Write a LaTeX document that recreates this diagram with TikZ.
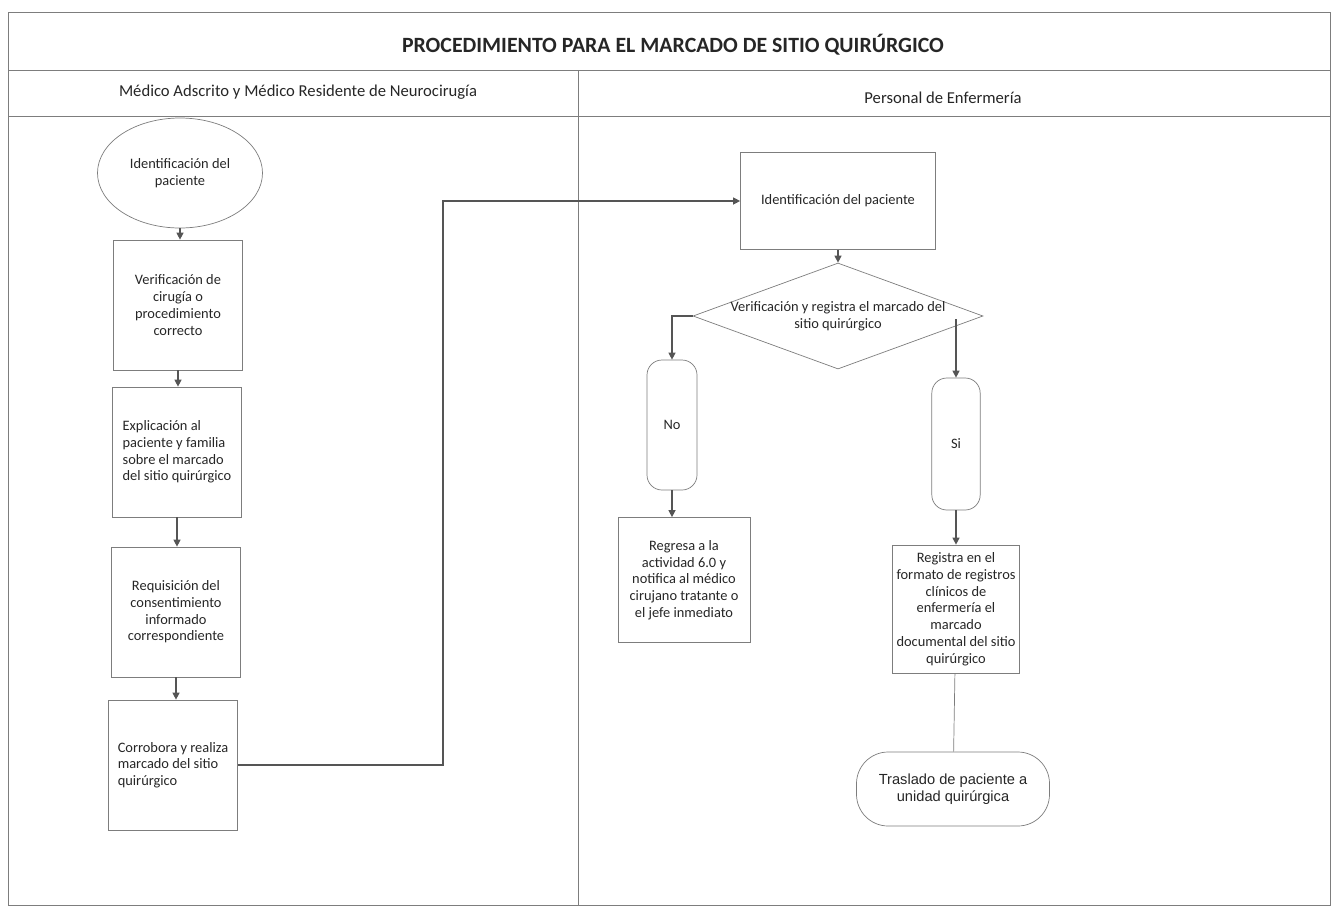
\documentclass[tikz,border=0pt]{standalone}
\usepackage{fontspec}
\setmainfont{Carlito}
\newfontfamily\arialFont{Liberation Sans}
\usetikzlibrary{shapes.geometric, arrows.meta}
\definecolor{lineGray}{RGB}{85,85,85}
\definecolor{frameGray}{RGB}{125,125,125}

\begin{document}
\begin{tikzpicture}[x=0.03cm, y=-0.03cm,
	box/.style={draw=frameGray, line width=0.6pt, rectangle, minimum width=3.85cm, minimum height=3.9cm, inner sep=1pt, align=center, font=\fontsize{12.3}{14.3}\selectfont, text=black!85},
	term/.style={draw=frameGray, line width=0.6pt, rectangle, rounded corners=0.45cm, minimum width=1.5cm, minimum height=3.9cm, font=\fontsize{12.3}{14.3}\selectfont, text=black!85},
	flow/.style={draw=lineGray, line width=1.1pt, -{Triangle[length=6pt, width=6pt]}},
	frame/.style={draw=frameGray, line width=0.8pt}]

% Define bounds.

	\useasboundingbox (0,0) rectangle (1334,915);

% Draw frame.

	\draw[frame] (8,12) rectangle (1330,905);
	\draw[frame] (8,70) -- (1330,70);
	\draw[frame] (8,116) -- (1330,116);
	\draw[frame] (578,70) -- (578,905);

	\node[font=\fontsize{18.6}{22}\selectfont\bfseries, text=black!85] (title) at (673,45) {PROCEDIMIENTO PARA EL MARCADO DE SITIO QUIRÚRGICO};
	\node[font=\fontsize{14.2}{17}\selectfont, text=black!85] (laneMedico) at (298,92) {Médico Adscrito y Médico Residente de Neurocirugía};
	\node[font=\fontsize{14.2}{17}\selectfont, text=black!85] (laneEnfermeria) at (943,98) {Personal de Enfermería};

% Draw left lane.

	%start
	\node[draw=frameGray, line width=0.6pt, ellipse, minimum width=4.95cm, minimum height=3.3cm, inner sep=0pt, align=center, font=\fontsize{12.3}{14.3}\selectfont, text=black!85] (start) at (180,173) {Identificación del\\paciente};

	%steps
	\node[box] (verifCirugia) at (178,305) {Verificación de\\cirugía o\\procedimiento\\correcto};
	\node[box, align=left] (explicacion) at (177,452) {Explicación al\\paciente y familia\\sobre el marcado\\del sitio quirúrgico};
	\node[box] (requisicion) at (176,612) {Requisición del\\consentimiento\\informado\\correspondiente};
	\node[box, align=left] (corrobora) at (173,765) {Corrobora y realiza\\marcado del sitio\\quirúrgico};

% Draw right lane.

	\node[box, minimum width=5.85cm, minimum height=2.91cm] (identEnf) at (838,201) {Identificación del paciente};
	\node[draw=frameGray, line width=0.6pt, diamond, minimum width=8.7cm, minimum height=3.18cm, inner sep=0pt] (verifMarcado) at (838,316) {};
	\node[align=center, font=\fontsize{12.3}{14.3}\selectfont, text=black!85] (verifText) at (838,316) {Verificación y registra el marcado del\\sitio quirúrgico};

	%branches
	\node[term] (no) at (672,425) {No};
	\node[term, minimum width=1.45cm, minimum height=3.96cm] (si) at (956,444) {Si};
	\coordinate (siStart) at (956,319);

	\node[box, minimum width=3.96cm, minimum height=3.75cm] (regresa) at (684,580) {Regresa a la\\actividad 6.0 y\\notifica al médico\\cirujano tratante o\\el jefe inmediato};
	\node[box, minimum width=3.81cm, minimum height=3.84cm] (registra) at (956,609) {Registra en el\\formato de registros\\clínicos de\\enfermería el\\marcado\\documental del sitio\\quirúrgico};

	%end
	\node[draw=frameGray, line width=0.6pt, rectangle, rounded corners=0.95cm, minimum width=5.79cm, minimum height=2.22cm, align=center, font=\arialFont\fontsize{12.5}{15}\selectfont, text=black!85] (traslado) at (953,789) {Traslado de paciente a\\unidad quirúrgica};

% Draw connectors.

	\draw[flow] (start.south) -- (start.south |- verifCirugia.north);
	\draw[flow] (verifCirugia.south) -- (verifCirugia.south |- explicacion.north);
	\draw[flow] (explicacion.south) -- (explicacion.south |- requisicion.north);
	\draw[flow] (requisicion.south) -- (requisicion.south |- corrobora.north);

	\coordinate (bend) at (443,765);
	\draw[flow] (corrobora.east) -- (bend) |- (identEnf.west);

	\draw[flow] (identEnf) -- (verifMarcado);
	\draw[flow] (verifMarcado.west) -| (no.north);
	\draw[flow] (siStart) -- (si.north);
	\draw[flow] (no.south) -- (no.south |- regresa.north);
	\draw[flow] (si) -- (registra);
	\draw[draw=frameGray, line width=0.6pt] (registra) -- (traslado);

\end{tikzpicture}
\end{document}
